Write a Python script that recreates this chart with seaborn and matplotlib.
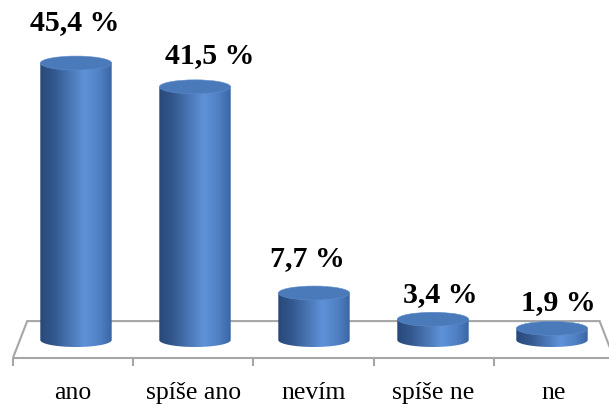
import numpy as np
import pandas as pd
import matplotlib
matplotlib.use("Agg")
import matplotlib.pyplot as plt
from matplotlib.path import Path
from matplotlib.patches import PathPatch, Ellipse
from matplotlib.colors import LinearSegmentedColormap
import seaborn as sns

# Survey answers and their shares (%)
categories = ["ano", "spíše ano", "nevím", "spíše ne", "ne"]
values = [45.4, 41.5, 7.7, 3.4, 1.9]

# Value-label placement relative to the top of each cylinder (pixels)
label_dx = [-1.5, 14.5, -6.5, 7.0, 6.0]
label_dy = [34, 25, 28, 18, 19]

sns.set_style("white")
plt.rcParams["font.family"] = ["Liberation Serif", "DejaVu Serif"]

fig = plt.figure(figsize=(6.09, 4.06), dpi=100)
ax = fig.add_axes([0, 0, 1, 1])

df = pd.DataFrame({"odpověď": categories, "podíl": values})
sns.barplot(data=df, x="odpověď", y="podíl", ax=ax, width=0.6,
            color="#4A7BBD", saturation=1, zorder=2)

# Pixel scale of the plot area
px_x, px_y = 119.0, 6.1
ax.set_xlim(-76 / px_x, (609 - 76) / px_x)
ax.set_ylim((341 - 406) / px_y, 341 / px_y)
ax.set_axis_off()

rim = 7 / px_y  # half-height of the elliptical cylinder faces

# Floor of the 3-D chart (perspective trapezoid) with category ticks
back, front = 3.1, -2.95
bl, br = -0.41, 4.40
fl, fr = -0.53, 4.52
floor_kw = dict(color="#A6A6A6", lw=1.5, zorder=1, solid_joinstyle="miter",
                solid_capstyle="butt")
ax.plot([fl, bl, br, fr], [front, back, back, front], **floor_kw)
ax.plot([fl, fr], [front, front], **floor_kw)
for t in np.linspace(fl, fr, len(categories) + 1):
    ax.plot([t, t], [front, front - 8 / px_y], **floor_kw)

# Cylinder shading across the width
cmap = LinearSegmentedColormap.from_list(
    "cyl", [(0.0, "#284879"), (0.2, "#34598F"), (0.62, "#5E92D8"),
            (0.82, "#5181C5"), (1.0, "#3B66A4")])
grad = np.linspace(0, 1, 256).reshape(1, -1)

for bar, dx, dy, v in zip(list(ax.patches), label_dx, label_dy, values):
    x0, w, h = bar.get_x(), bar.get_width(), bar.get_height()
    cx = x0 + w / 2
    bar.set_visible(False)

    t = np.linspace(np.pi, 2 * np.pi, 80)
    arc = np.column_stack([cx + w / 2 * np.cos(t), rim * np.sin(t)])
    verts = np.vstack([[x0, h], arc, [x0 + w, h], [x0, h]])
    codes = [Path.MOVETO] + [Path.LINETO] * (len(verts) - 2) + [Path.CLOSEPOLY]
    body = PathPatch(Path(verts, codes), facecolor="none", edgecolor="none",
                     transform=ax.transData)
    ax.add_patch(body)
    im = ax.imshow(grad, cmap=cmap, extent=(x0, x0 + w, -rim, h),
                   aspect="auto", interpolation="bicubic", zorder=2)
    im.set_clip_path(body)

    ax.add_patch(Ellipse((cx, h), w, 2 * rim, facecolor="#4B7ABB",
                         edgecolor="#5F8DCB", lw=0.4, zorder=3))

    ax.annotate(f"{v:.1f}".replace(".", ",") + " %", xy=(cx, h),
                xytext=(dx, dy), textcoords="offset pixels",
                ha="center", va="baseline", fontsize=21.5, fontweight="bold",
                color="black", zorder=4)

# Category names along the front edge of the floor
seg = (fr - fl) / len(categories)
for i, cat in enumerate(categories):
    ax.text(fl + seg * (i + 0.5), (341 - 399) / px_y, cat,
            ha="center", va="baseline", fontsize=18.5, color="black")

ax.set_xlim(-76 / px_x, (609 - 76) / px_x)
ax.set_ylim((341 - 406) / px_y, 341 / px_y)

fig.savefig("out.png", dpi=100)
